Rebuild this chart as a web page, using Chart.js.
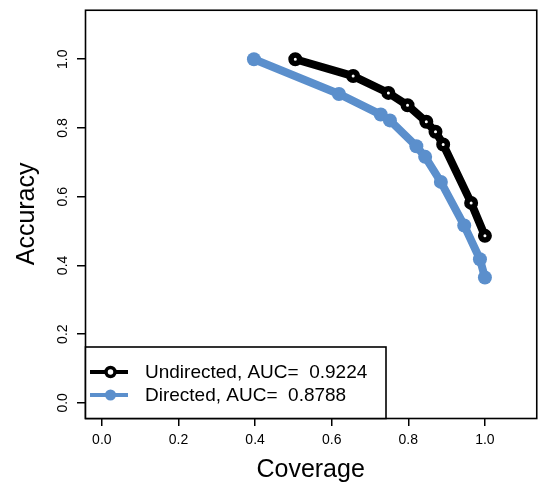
<!DOCTYPE html>
<html>
<head>
<meta charset="utf-8">
<script src="https://cdn.jsdelivr.net/npm/chart.js@4.4.1/dist/chart.umd.min.js"></script>
<style>
  html, body { margin: 0; padding: 0; background: #fff; }
  #rocChart { display: block; }
</style>
</head>
<body>
<canvas id="rocChart" width="546" height="492" style="width:546px;height:492px"></canvas>
<script>
// Datos
const undirectedCoverage = [0.505, 0.656, 0.748, 0.798, 0.847, 0.871, 0.891, 0.964, 1.0];
const undirectedAccuracy = [1.0, 0.951, 0.902, 0.866, 0.818, 0.789, 0.752, 0.582, 0.486];
const directedCoverage = [0.397, 0.619, 0.728, 0.752, 0.821, 0.844, 0.885, 0.946, 0.987, 1.0];
const directedAccuracy = [1.0, 0.899, 0.839, 0.822, 0.747, 0.716, 0.643, 0.516, 0.418, 0.365];
const seriesLabels = ['Undirected, AUC=  0.9224', 'Directed, AUC=  0.8788'];
const tickValues = [0, 0.2, 0.4, 0.6, 0.8, 1.0];

const BLUE = '#5b8fcc';
const FONT = "'Liberation Sans', Arial, Helvetica, sans-serif";

const toPoints = (xs, ys) => xs.map((x, i) => ({ x: x, y: ys[i] }));

// Marco alrededor del área del gráfico
const boxPlugin = {
  id: 'box',
  afterDraw(chart) {
    const { ctx, chartArea: a } = chart;
    ctx.save();
    ctx.strokeStyle = '#000';
    ctx.lineWidth = 1.6;
    ctx.strokeRect(a.left + 0.5, a.top + 0.5, a.right - a.left, a.bottom - a.top);
    ctx.restore();
  }
};

// Etiquetas del eje Y giradas (como en R)
const yLabelsPlugin = {
  id: 'yLabels',
  afterDraw(chart) {
    const { ctx } = chart;
    const yScale = chart.scales.y;
    ctx.save();
    ctx.fillStyle = '#000';
    ctx.font = '14px ' + FONT;
    ctx.textAlign = 'center';
    ctx.textBaseline = 'middle';
    tickValues.forEach((v) => {
      const py = yScale.getPixelForValue(v);
      ctx.save();
      ctx.translate(63, py);
      ctx.rotate(-Math.PI / 2);
      ctx.fillText(v.toFixed(1), 0, 0);
      ctx.restore();
    });
    ctx.restore();
  }
};

// Leyenda con recuadro dentro del área
const legendPlugin = {
  id: 'legendBox',
  afterDraw(chart) {
    const { ctx, chartArea: a } = chart;
    const left = a.left + 0.5;
    const top = 347;
    const right = 386;
    const bottom = a.bottom + 0.5;
    ctx.save();
    ctx.fillStyle = '#fff';
    ctx.fillRect(left, top, right - left, bottom - top);
    ctx.strokeStyle = '#000';
    ctx.lineWidth = 1.6;
    ctx.strokeRect(left, top, right - left, bottom - top);

    const rows = [372, 395];
    [0, 1].forEach((i) => {
      const ds = chart.data.datasets[i];
      const y = rows[i];
      ctx.strokeStyle = ds.borderColor;
      ctx.lineWidth = 4;
      ctx.beginPath();
      ctx.moveTo(90, y);
      ctx.lineTo(128, y);
      ctx.stroke();
      ctx.beginPath();
      if (i === 0) {
        ctx.arc(110.5, y, 4.5, 0, Math.PI * 2);
        ctx.fillStyle = '#fff';
        ctx.fill();
        ctx.lineWidth = 3.5;
        ctx.stroke();
      } else {
        ctx.arc(110.5, y, 5.5, 0, Math.PI * 2);
        ctx.fillStyle = ds.borderColor;
        ctx.fill();
      }
      ctx.fillStyle = '#000';
      ctx.font = '19px ' + FONT;
      ctx.textAlign = 'left';
      ctx.textBaseline = 'middle';
      ctx.fillText(ds.label, 145, y + 1);
    });
    ctx.restore();
  }
};

const axisCommon = {
  type: 'linear',
  min: -0.044,
  max: 1.144,
  afterBuildTicks: (scale) => {
    scale.ticks = tickValues.map((v) => ({ value: v }));
  },
  grid: {
    drawOnChartArea: false,
    drawTicks: true,
    tickLength: 8,
    color: '#000',
    lineWidth: 1.5
  },
  border: { display: false }
};

const config = {
  type: 'scatter',
  data: {
    datasets: [
      {
        label: seriesLabels[0],
        data: toPoints(undirectedCoverage, undirectedAccuracy),
        showLine: true,
        borderColor: '#000',
        borderWidth: 8,
        pointRadius: 4.25,
        pointBorderWidth: 5.5,
        pointBackgroundColor: '#fff',
        pointBorderColor: '#000',
        tension: 0
      },
      {
        label: seriesLabels[1],
        data: toPoints(directedCoverage, directedAccuracy),
        showLine: true,
        borderColor: BLUE,
        borderWidth: 8,
        pointRadius: 7,
        pointBorderWidth: 0,
        pointBackgroundColor: BLUE,
        pointBorderColor: BLUE,
        tension: 0
      },
      {
        // anillo blanco de los puntos azules
        label: '',
        data: toPoints(directedCoverage, directedAccuracy),
        showLine: false,
        pointRadius: 3,
        pointBorderWidth: 1,
        pointBackgroundColor: 'rgba(0,0,0,0)',
        pointBorderColor: 'rgba(255,255,255,0.9)'
      }
    ]
  },
  options: {
    responsive: false,
    animation: false,
    layout: { padding: { top: 7, right: 2, left: 0, bottom: 0 } },
    plugins: {
      legend: { display: false },
      tooltip: { enabled: false }
    },
    scales: {
      x: {
        ...axisCommon,
        max: 1.134,
        position: 'bottom',
        afterFit: (s) => {
          s.height = 74;
          s.paddingLeft = 0;
          s.paddingRight = 0;
        },
        ticks: {
          color: '#000',
          padding: 6,
          maxRotation: 0,
          font: { family: FONT, size: 14 },
          callback: (v) => Number(v).toFixed(1)
        },
        title: {
          display: true,
          text: 'Coverage',
          color: '#000',
          font: { family: FONT, size: 25 },
          padding: { top: 0, bottom: 7 }
        }
      },
      y: {
        ...axisCommon,
        position: 'left',
        afterFit: (s) => {
          s.width = 85;
          s.paddingTop = 0;
          s.paddingBottom = 0;
        },
        ticks: { display: false },
        title: {
          display: true,
          text: 'Accuracy',
          color: '#000',
          font: { family: FONT, size: 25 },
          padding: { top: 12, bottom: 0 }
        }
      }
    }
  },
  plugins: [boxPlugin, yLabelsPlugin, legendPlugin]
};

new Chart(document.getElementById('rocChart'), config);
</script>
</body>
</html>
